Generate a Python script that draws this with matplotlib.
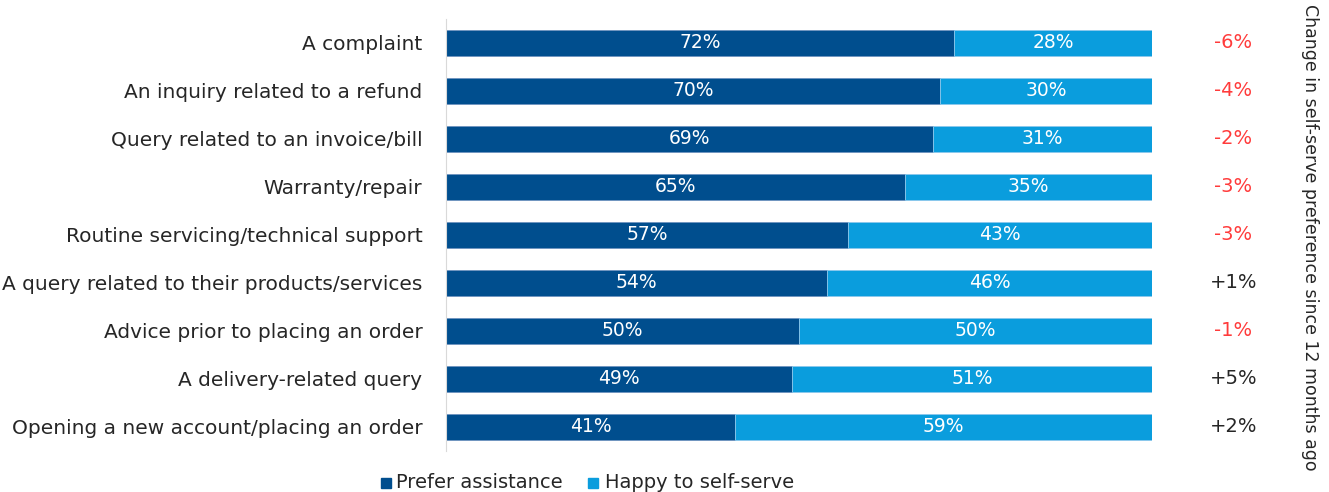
import numpy as np
import matplotlib
matplotlib.use("Agg")
import matplotlib.pyplot as plt

cats = ["A complaint", "An inquiry related to a refund", "Query related to an invoice/bill",
        "Warranty/repair", "Routine servicing/technical support",
        "A query related to their products/services", "Advice prior to placing an order",
        "A delivery-related query", "Opening a new account/placing an order"]
assist = [72, 70, 69, 65, 57, 54, 50, 49, 41]
selfserve = [28, 30, 31, 35, 43, 46, 50, 51, 59]
change = ["-6%", "-4%", "-2%", "-3%", "-3%", "+1%", "-1%", "+5%", "+2%"]

dark = "#004E8E"
light = "#0A9DDD"

plt.rcParams['font.family'] = ['DejaVu Sans']
fig = plt.figure(figsize=(13.29, 4.92), dpi=100)
ax = fig.add_axes([446/1329, 1-451/492, (1152-446)/1329, (451-19)/492])

y = np.arange(len(cats))
h = 0.55
ax.barh(y, assist, height=h, color=dark, edgecolor="#6f93bf", linewidth=0.6)
ax.barh(y, selfserve, left=assist, height=h, color=light, edgecolor="#8cc8ec", linewidth=0.6)

for i in range(len(cats)):
    ax.text(assist[i]/2, y[i], f"{assist[i]}%", ha="center", va="center", color="white", fontsize=13.5)
    ax.text(assist[i] + selfserve[i]/2, y[i], f"{selfserve[i]}%", ha="center", va="center",
            color="white", fontsize=13.5)
    col = "#FF3B3B" if change[i].startswith("-") else "#262626"
    ax.text(111.5, y[i], change[i], ha="center", va="center", color=col, fontsize=14)

ax.set_xlim(0, 100)
ax.set_ylim(len(cats) - 0.5, -0.5)
ax.set_yticks(y)
ax.set_yticklabels(cats, fontsize=14.5, color="#262626")
ax.tick_params(axis="y", length=0, pad=17)
ax.set_xticks([])
for s in ["top", "right", "bottom"]:
    ax.spines[s].set_visible(False)
ax.spines["left"].set_color("#d9d9d9")

fig.text(1310/1329, 1-237/492, "Change in self-serve preference since 12 months ago", rotation=270,
         ha="center", va="center", fontsize=12.5, color="#262626")

# legend
fig.patches.append(plt.Rectangle((381/1329, 1-488/492), 10/1329, 10/492, transform=fig.transFigure,
                                 color=dark))
fig.text(396/1329, 1-483/492, "Prefer assistance", va="center", fontsize=14, color="#262626")
fig.patches.append(plt.Rectangle((588/1329, 1-488/492), 10/1329, 10/492, transform=fig.transFigure,
                                 color=light))
fig.text(605/1329, 1-483/492, "Happy to self-serve", va="center", fontsize=14, color="#262626")

plt.savefig("out.png")
